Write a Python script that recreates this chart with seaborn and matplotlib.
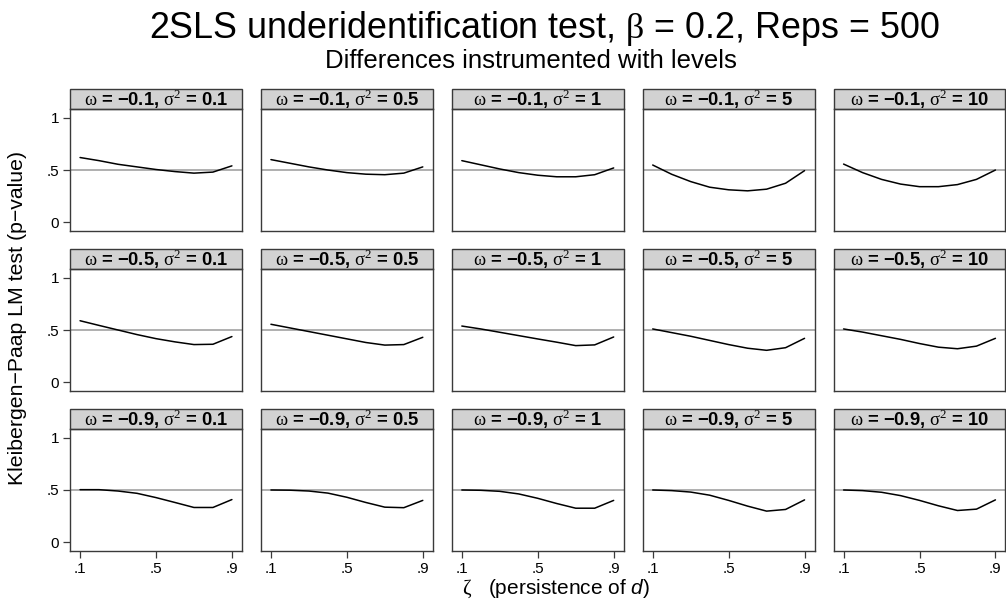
import numpy as np
import pandas as pd
import matplotlib
matplotlib.use("Agg")
import matplotlib.pyplot as plt
import seaborn as sns
from matplotlib.patches import Rectangle

# Persistence grid and design parameters
zeta = [0.1, 0.2, 0.3, 0.4, 0.5, 0.6, 0.7, 0.8, 0.9]
omegas = [-0.1, -0.5, -0.9]
sigma2s = [0.1, 0.5, 1, 5, 10]
omega_labels = ["−0.1", "−0.5", "−0.9"]
sigma2_labels = ["0.1", "0.5", "1", "5", "10"]

# Kleibergen-Paap LM p-values, omega = -0.1
p_w01_s01 = [0.62, 0.59, 0.555, 0.53, 0.505, 0.485, 0.47, 0.48, 0.54]
p_w01_s05 = [0.60, 0.565, 0.53, 0.50, 0.475, 0.46, 0.455, 0.47, 0.53]
p_w01_s1 = [0.59, 0.55, 0.51, 0.475, 0.45, 0.435, 0.435, 0.455, 0.52]
p_w01_s5 = [0.548, 0.459, 0.389, 0.335, 0.31, 0.30, 0.316, 0.373, 0.494]
p_w01_s10 = [0.557, 0.475, 0.41, 0.365, 0.34, 0.34, 0.36, 0.41, 0.50]

# omega = -0.5
p_w05_s01 = [0.589, 0.544, 0.50, 0.456, 0.417, 0.386, 0.36, 0.363, 0.437]
p_w05_s05 = [0.555, 0.52, 0.485, 0.45, 0.415, 0.38, 0.355, 0.36, 0.43]
p_w05_s1 = [0.538, 0.51, 0.478, 0.446, 0.414, 0.383, 0.35, 0.357, 0.433]
p_w05_s5 = [0.51, 0.475, 0.44, 0.40, 0.36, 0.325, 0.305, 0.33, 0.42]
p_w05_s10 = [0.51, 0.48, 0.445, 0.41, 0.37, 0.335, 0.32, 0.345, 0.42]

# omega = -0.9
p_w09_s01 = [0.503, 0.503, 0.49, 0.468, 0.427, 0.38, 0.332, 0.332, 0.408]
p_w09_s05 = [0.50, 0.498, 0.49, 0.47, 0.43, 0.38, 0.335, 0.33, 0.40]
p_w09_s1 = [0.50, 0.497, 0.487, 0.462, 0.42, 0.37, 0.325, 0.325, 0.40]
p_w09_s5 = [0.50, 0.494, 0.48, 0.45, 0.40, 0.345, 0.297, 0.313, 0.405]
p_w09_s10 = [0.50, 0.494, 0.478, 0.446, 0.40, 0.348, 0.303, 0.316, 0.405]

pvals = [
    [p_w01_s01, p_w01_s05, p_w01_s1, p_w01_s5, p_w01_s10],
    [p_w05_s01, p_w05_s05, p_w05_s1, p_w05_s5, p_w05_s10],
    [p_w09_s01, p_w09_s05, p_w09_s1, p_w09_s5, p_w09_s10],
]

rows = []
for i, w in enumerate(omegas):
    for j, s in enumerate(sigma2s):
        for z, p in zip(zeta, pvals[i][j]):
            rows.append({"omega": w, "sigma2": s, "zeta": z, "pvalue": p})
df = pd.DataFrame(rows)

sns.set_theme(style="ticks")
plt.rcParams["font.family"] = ["Liberation Sans", "DejaVu Sans"]
plt.rcParams["text.color"] = "black"
plt.rcParams["axes.labelcolor"] = "black"
plt.rcParams["mathtext.fontset"] = "custom"
plt.rcParams["mathtext.rm"] = "Liberation Serif"
plt.rcParams["mathtext.it"] = "Liberation Sans:italic"
plt.rcParams["mathtext.bf"] = "Liberation Sans:bold"

g = sns.relplot(
    data=df, x="zeta", y="pvalue", row="omega", col="sigma2",
    row_order=omegas, col_order=sigma2s, kind="line",
    color="black", linewidth=1.1, height=2, aspect=1.4,
    facet_kws=dict(sharex=True, sharey=True),
)
g.set_titles("")
g.set_axis_labels("", "")

fig = g.figure
fig.set_size_inches(10.06, 6.05)
fig.subplots_adjust(left=70 / 1006, right=0.9995, top=1 - 109 / 605,
                    bottom=1 - 551 / 605, wspace=0.11, hspace=0.311)

hdr = 20 / 122  # strip height in axes units
edge = "#3a3a3a"
for i in range(3):
    for j in range(5):
        ax = g.axes[i, j]
        ax.axhline(0.5, color="#9a9a9a", lw=1.1, zorder=1)
        ax.set_xlim(0.047, 0.953)
        ax.set_ylim(-0.086, 1.086)
        ax.set_xticks([0.1, 0.5, 0.9])
        ax.set_xticklabels([".1", ".5", ".9"])
        ax.set_yticks([0, 0.5, 1])
        ax.set_yticklabels(["0", ".5", "1"])
        for sp in ax.spines.values():
            sp.set_visible(True)
            sp.set_color(edge)
            sp.set_linewidth(1.0)
        ax.tick_params(axis="both", direction="out", length=5, width=0.9,
                       color=edge, labelsize=11, pad=3, labelcolor="black")
        ax.tick_params(axis="y", left=(j == 0), labelleft=(j == 0))
        ax.tick_params(axis="x", bottom=(i == 2), labelbottom=(i == 2))
        ax.add_patch(Rectangle((0, 1), 1, hdr, transform=ax.transAxes,
                               clip_on=False, facecolor="#d2d2d2",
                               edgecolor=edge, lw=1.0))
        label = (r"$\mathrm{\omega}$ = " + omega_labels[i] +
                 r", $\mathrm{\sigma}^{2}$ = " + sigma2_labels[j])
        ax.text(0.5, 1 + hdr / 2, label, transform=ax.transAxes,
                ha="center", va="center", fontsize=13.2, fontweight="bold",
                color="black")

fig.text(544 / 1006, 1 - 28 / 605,
         r"2SLS underidentification test, $\mathrm{\beta}$ = 0.2, Reps = 500",
         ha="center", va="center", fontsize=25.8)
fig.text(531 / 1006, 1 - 61 / 605, "Differences instrumented with levels",
         ha="center", va="center", fontsize=18.5)
fig.text(18 / 1006, 1 - 318 / 605, "Kleibergen−Paap LM test (p−value)",
         rotation=90, ha="center", va="center", fontsize=15.3)
fig.text(556 / 1006, 1 - 589 / 605, r"$\mathrm{\zeta}$   (persistence of $d$)",
         ha="center", va="center", fontsize=15)

fig.savefig("out.png", dpi=100)
